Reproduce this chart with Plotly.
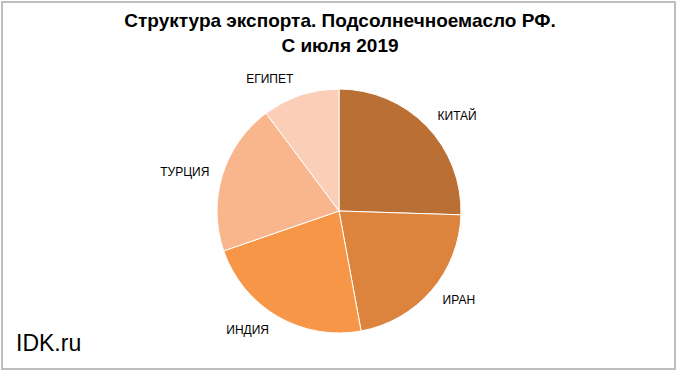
import plotly.graph_objects as go

countries = ["КИТАЙ", "ИРАН", "ИНДИЯ", "ТУРЦИЯ", "ЕГИПЕТ"]
shares = [25.5, 21.6, 22.6, 20.1, 10.2]
colors = ["#BA7034", "#DC843E", "#F79646", "#F9B68C", "#FBCEB8"]

W, H = 680, 375
cx, cy, r = 339, 211, 122
r_lab = 132
FONT = "Liberation Sans, Arial, sans-serif"


def dom(rad):
    return dict(x=[(cx - rad) / W, (cx + rad) / W],
                y=[1 - (cy + rad) / H, 1 - (cy - rad) / H])


fig = go.Figure()
fig.add_trace(go.Pie(
    labels=countries, values=shares, sort=False,
    direction="clockwise", rotation=0,
    marker=dict(colors=colors, line=dict(color="#FFFFFF", width=1)),
    textinfo="none", showlegend=False, hoverinfo="label+value",
    domain=dom(r),
))
fig.add_trace(go.Pie(
    labels=countries, values=shares, sort=False,
    direction="clockwise", rotation=0,
    marker=dict(colors=["rgba(0,0,0,0)"] * len(countries)),
    textinfo="label", textposition="outside",
    outsidetextfont=dict(family=FONT, size=12, color="#000000"),
    showlegend=False, hoverinfo="skip",
    domain=dom(r_lab),
))

fig.update_layout(
    width=W, height=H,
    margin=dict(l=0, r=0, t=0, b=0),
    paper_bgcolor="#FFFFFF",
    title=dict(
        text="<b>Структура экспорта. Подсолнечноемасло РФ.<br>С июля 2019</b>",
        x=0.5, xanchor="center", y=1 - 27 / H, yanchor="middle",
        font=dict(family=FONT, size=19, color="#000000"),
    ),
    shapes=[dict(type="rect", xref="paper", yref="paper",
                 x0=2 / W, x1=675 / W, y0=1 - 369 / H, y1=1 - 2 / H,
                 line=dict(color="#BEBEBE", width=2))],
    annotations=[dict(text="IDK.ru", xref="paper", yref="paper",
                      x=14 / W, y=1 - 343 / H, xanchor="left", yanchor="middle",
                      showarrow=False,
                      font=dict(family=FONT, size=23, color="#000000"))],
)

fig.write_html("out.html", config={"displayModeBar": False},
               post_script="document.body.style.margin='0px';")
